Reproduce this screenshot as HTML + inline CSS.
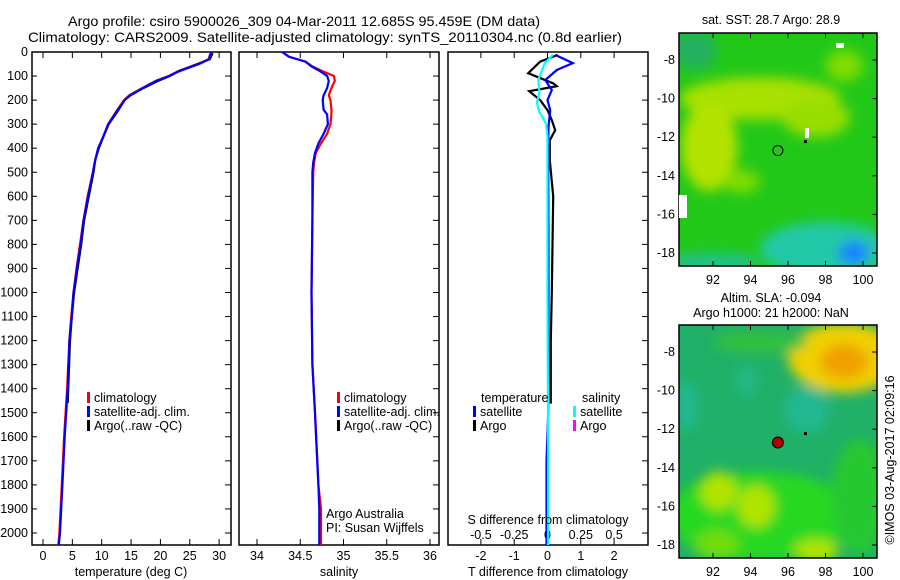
<!DOCTYPE html>
<html><head><meta charset="utf-8"><style>
body{margin:0;background:#fff;}
svg{display:block;font-family:"Liberation Sans","DejaVu Sans",sans-serif;}
</style></head><body>
<svg id="s" width="900" height="580" xmlns="http://www.w3.org/2000/svg">
<text x="68" y="26" font-size="14" textLength="472" lengthAdjust="spacingAndGlyphs">Argo profile: csiro 5900026_309 04-Mar-2011 12.685S 95.459E (DM data)</text>
<text x="28" y="42" font-size="14" textLength="594" lengthAdjust="spacingAndGlyphs">Climatology: CARS2009. Satellite-adjusted climatology: synTS_20110304.nc (0.8d earlier)</text>
</svg>
<script>
// ---- data ----
const tDepthClim=[0,30,50,80,100,120,150,180,200,250,300,350,400,450,500,600,700,800,900,1000,1100,1200,1400,1600,1800,2000,2050];
const tClim=[28.6,28.2,26.5,23.1,21.4,19.2,16.9,14.7,13.8,12.4,11.1,10.3,9.4,8.9,8.5,7.6,6.9,6.3,5.7,5.2,4.8,4.5,4.1,3.6,3.2,2.8,2.6];
const tSat=[28.7,28.3,26.6,23.2,21.5,19.3,17.0,14.8,13.9,12.5,11.1,10.3,9.4,8.9,8.5,7.7,6.9,6.4,5.8,5.2,4.9,4.5,4.2,3.7,3.3,2.9,2.7];
const tDepthArgo=[5,30,50,80,100,120,150,180,200,250,300,350,400,450,500,600,700,800,900,1000,1100,1200,1400,1460];
const tArgo=[28.9,28.4,26.3,23.0,21.6,19.6,17.1,14.9,13.9,12.6,11.2,10.3,9.5,8.9,8.6,7.8,7.0,6.5,5.9,5.3,4.9,4.6,4.3,4.2];
const sDepth=[0,20,40,60,80,100,120,150,180,200,240,260,300,340,380,420,460,500,700,1000,1300,1500,1800,1900,2000,2050];
const sClim=[34.29,34.37,34.56,34.64,34.76,34.89,34.90,34.86,34.83,34.85,34.86,34.86,34.85,34.81,34.74,34.68,34.66,34.65,34.64,34.63,34.64,34.67,34.71,34.74,34.74,34.74];
const sSat=[34.29,34.37,34.56,34.63,34.73,34.81,34.83,34.81,34.77,34.76,34.77,34.81,34.82,34.77,34.71,34.67,34.65,34.64,34.64,34.63,34.64,34.67,34.71,34.72,34.72,34.72];
const dDepthSat=[12,46,75,117,158,200,242,312,400,800,1200,1500,1700,2050];
const dTSat=[0.23,0.76,0.28,-0.07,0.13,0,0.08,0.03,0.02,0.03,0.03,0.02,-0.03,-0.03];
const dDepthArgo=[12,40,88,130,142,163,200,242,283,325,367,450,600,800,1000,1200,1462];
const dTArgo=[0.31,-0.22,-0.58,0.17,0.28,-0.55,-0.22,0,0.13,0.23,0.07,0.07,0.17,0.15,0.13,0.1,0.1];
const dDepthS=[12,46,117,170,210,250,300,350,500,1000,1500,2050];
const dSSat=[0.04,-0.02,-0.07,-0.06,-0.08,-0.06,-0.01,0,0,0,0.004,0.004];
const depthTicks=[0,100,200,300,400,500,600,700,800,900,1000,1100,1200,1300,1400,1500,1600,1700,1800,1900,2000];
const tTicks=[0,5,10,15,20,25,30];
const sTicks=[34,34.5,35,35.5,36];
const dTTicks=[-2,-1,0,1,2];
const dSTicks=[-0.5,-0.25,0,0.25,0.5];
const dSTickLabels=["-0.5","-0.25","0","0.25","0.5"];
const lonTicks=[92,94,96,98,100];
const latTicks=[-8,-10,-12,-14,-16,-18];

const NS="http://www.w3.org/2000/svg";
const svg=document.getElementById('s');
const FS=12.5;
function mk(tag,attrs,parent){const e=document.createElementNS(NS,tag);for(const k in attrs)e.setAttribute(k,attrs[k]);(parent||svg).appendChild(e);return e;}
function txt(x,y,s,size,anchor,parent){const e=mk('text',{x:x,y:y,'font-size':size,'text-anchor':anchor||'start'},parent);e.textContent=s;return e;}

const Y0=52, Y1=545;
const yD=d=>52+0.2405*d;
const xT=t=>43+5.87*t;
const xS=s=>257+86.5*(s-34);
const xDT=t=>547.5+33.3*t;
const xDS=s=>547.5+133.2*s;

function panel(x0,x1,name){
  const r=mk('rect',{x:x0,y:Y0,width:x1-x0,height:Y1-Y0,fill:'none',stroke:'#000','stroke-width':1.5});
  
  
  depthTicks.forEach(d=>{mk('line',{x1:x1-6,x2:x1,y1:yD(d),y2:yD(d),stroke:'#000'});if(name==='temperature-panel')mk('line',{x1:x0,x2:x0+5,y1:yD(d),y2:yD(d),stroke:'#000'});});
}
function xticks(vals,fx,labels,name){
  vals.forEach((v,i)=>{const x=fx(v);mk('line',{x1:x,x2:x,y1:Y1-6,y2:Y1,stroke:'#000'});mk('line',{x1:x,x2:x,y1:Y0,y2:Y0+6,stroke:'#000'});
    const t=txt(x,560,labels?labels[i]:String(v),FS,'middle');});
}
function line(ds,vs,fx,color,name){
  const pts=ds.map((d,i)=>fx(vs[i]).toFixed(1)+','+yD(d).toFixed(1)).join(' ');
  const p=mk('polyline',{points:pts,fill:'none',stroke:color,'stroke-width':2.2});
  
  
}
function legend(x,y,color,label,name){
  mk('rect',{x:x,y:y-10,width:3,height:11,fill:color});
  const t=txt(x+7,y,label,FS);
  
  
}

// Panel 1
panel(32,231,'temperature-panel');
depthTicks.forEach(d=>{const t=txt(28,yD(d)+4,String(d),FS,'end');});
xticks(tTicks,xT,null,'temperature-tick-label');
line(tDepthArgo,tArgo,xT,'#000','temperature-argo-line');
line(tDepthClim,tClim,xT,'#f00','temperature-climatology-line');
line(tDepthClim,tSat,xT,'#00f','temperature-satellite-line');
legend(87,402,'#f00','climatology','legend-climatology');
legend(87,416,'#00f','satellite-adj. clim.','legend-satellite');
legend(87,430,'#000','Argo(..raw -QC)','legend-argo');
(function(){const t=txt(131,576,'temperature (deg C)',FS,'middle');})();

// Panel 2
panel(239,439,'salinity-panel');
xticks(sTicks,xS,null,'salinity-tick-label');
line(sDepth,sClim,xS,'#f00','salinity-climatology-line');
line(sDepth,sSat,xS,'#00f','salinity-satellite-line');
legend(337,402,'#f00','climatology','legend-climatology-2');
legend(337,416,'#00f','satellite-adj. clim.','legend-satellite-2');
legend(337,430,'#000','Argo(..raw -QC)','legend-argo-2');
(function(){let t=txt(326,518,'Argo Australia',FS);
t=txt(326,532,'PI: Susan Wijffels',FS);
t=txt(339,576,'salinity',FS,'middle');})();

// Panel 3
panel(448,648,'difference-panel');
xticks(dTTicks,xDT,null,'t-diff-tick-label');
dSTicks.forEach((v,i)=>{const t=txt(xDS(v),539,dSTickLabels[i],FS,'middle');});
line(dDepthArgo,dTArgo,xDT,'#000','t-diff-argo-line');
line(dDepthSat,dTSat,xDT,'#00f','t-diff-satellite-line');
line(dDepthS,dSSat,xDS,'#0ff','s-diff-satellite-line');
(function(){let t=txt(481,402,'temperature',FS);
t=txt(582,402,'salinity',FS);})();
legend(473,416,'#00f','satellite','legend-t-satellite');
legend(473,430,'#000','Argo','legend-t-argo');
legend(573,416,'#0ff','satellite','legend-s-satellite');
legend(573,430,'#f0f','Argo','legend-s-argo');
(function(){let t=txt(548,524,'S difference from climatology',FS,'middle');
t=txt(548,576,'T difference from climatology',FS,'middle');})();

// Maps
const defs=mk('defs',{});
const f=mk('filter',{id:'bl',x:'-20%',y:'-20%',width:'140%',height:'140%'},defs);
mk('feGaussianBlur',{stdDeviation:6},f);
function map(top,name,base,blobs){
  const L=679,R=877,B=top+233;
  const lx=lon=>713+18.75*(lon-92);
  const ly=lat=>(top+27)+19.3*(-8-lat);
  const cp=mk('clipPath',{id:'c'+name},defs);
  mk('rect',{x:L,y:top,width:R-L,height:B-top},cp);
  const g=mk('g',{'clip-path':'url(#c'+name+')'});
  
  
  mk('rect',{x:L,y:top,width:R-L,height:B-top,fill:base},g);
  const gb=mk('g',{filter:'url(#bl)'},g);
  blobs.forEach(b=>mk('ellipse',{cx:lx(b[0]),cy:ly(b[1]),rx:b[2]*18.75,ry:b[3]*19.3,fill:b[4]},gb));
  mk('rect',{x:L,y:top,width:R-L,height:B-top,fill:'none',stroke:'#000','stroke-width':1.5});
  lonTicks.forEach(v=>{const x=lx(v);mk('line',{x1:x,x2:x,y1:B-5,y2:B,stroke:'#000'});mk('line',{x1:x,x2:x,y1:top,y2:top+5,stroke:'#000'});
    const t=txt(x,B+18,String(v),FS,'middle');});
  latTicks.forEach(v=>{const y=ly(v);mk('line',{x1:R-5,x2:R,y1:y,y2:y,stroke:'#000'});
    const t=txt(675,y+4,String(v),FS,'end');});
  return {lx,ly};
}
const m1=map(33,'sst-map','#22c818',[
 [94.5,-10,4.3,1.1,'#a8e000'],[91.8,-12.5,1.5,2.3,'#b4e200'],[97.5,-11,1.8,1,'#98de00'],[93.5,-14.3,1,0.6,'#80dc00'],
 [98,-17.8,3.5,1.4,'#20c8a8'],[99.5,-18,0.8,0.6,'#1a80ff'],[92,-18.5,2.5,0.5,'#20c090'],[91,-7.5,1.2,1,'#20b060'],[99,-8.3,1,0.8,'#80dc00']]);
mk('rect',{x:679,y:195,width:8,height:23,fill:'#fff'});
mk('rect',{x:805,y:128,width:4,height:10,fill:'#fff'});
mk('rect',{x:836,y:43,width:8,height:5,fill:'#fff'});
mk('circle',{cx:m1.lx(95.46),cy:m1.ly(-12.69),r:5,fill:'none',stroke:'#000'});
mk('rect',{x:m1.lx(96.85),y:m1.ly(-12.15),width:3,height:3,fill:'#000'});
(function(){const t=txt(771,24,'sat. SST: 28.7 Argo: 28.9',FS,'middle');})();

const m2=map(325,'sla-map','#20b068',[
 [99,-8.3,3,1.8,'#f0d000'],[99,-8.5,1.3,0.9,'#f0a000'],[94.5,-7.5,2.5,0.6,'#30c040'],
 [94.5,-16.5,5,2.3,'#28d820'],[92.3,-15.2,1,1,'#b0e400'],[94.3,-16,1,1.1,'#b0e400'],[97.5,-18.3,1.2,0.6,'#b0e400'],[92.2,-18,1.2,0.8,'#70dc10'],
 [99.8,-15.5,1.5,3,'#28c830'],[97,-11,1.2,1.2,'#20b890'],[90.6,-10.8,0.6,1.3,'#20b890'],[93.8,-9.5,0.6,0.8,'#20b888']]);
mk('circle',{cx:m2.lx(95.46),cy:m2.ly(-12.69),r:5.5,fill:'#b00000',stroke:'#000'});
mk('rect',{x:m2.lx(96.85),y:m2.ly(-12.15),width:3,height:3,fill:'#000'});
(function(){let t=txt(771,302,'Altim. SLA: -0.094',FS,'middle');
t=txt(771,317,'Argo h1000: 21 h2000: NaN',FS,'middle');
t=txt(0,0,'\u00a9IMOS 03-Aug-2017 02:09:16',FS,'middle');t.setAttribute('transform','translate(894,460) rotate(-90)');})();
</script>
</body></html>
